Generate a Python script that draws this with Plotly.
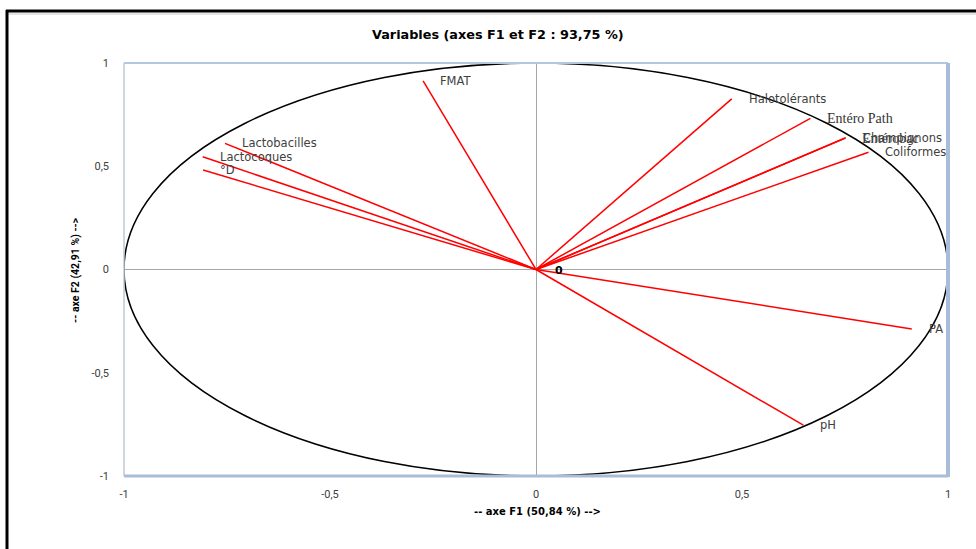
import plotly.graph_objects as go

# Correlation circle: loadings of each variable on factors F1 and F2
variables = ["FMAT", "Lactobacilles", "Lactocoques", "°D", "Halotolérants",
             "Entéro Path", "Entérobac", "Champignons", "Coliformes", "PA", "pH"]
f1 = [-0.274, -0.755, -0.809, -0.808, 0.475, 0.666, 0.750, 0.752, 0.807, 0.912, 0.649]
f2 = [0.913, 0.611, 0.546, 0.482, 0.826, 0.732, 0.636, 0.638, 0.568, -0.288, -0.754]
serif_labels = {"Entéro Path", "Entérobac"}

title_text = "Variables (axes F1 et F2 : 93,75 %)"
x_title = "-- axe F1 (50,84 %) -->"
y_title = "-- axe F2 (42,91 %) -->"
tick_vals = [-1, -0.5, 0, 0.5, 1]
tick_text = ["-1", "-0,5", "0", "0,5", "1"]

# pixel geometry of the plotting area inside the 976x549 page
W, H = 976, 549
L, R, T, B = 124, 948, 63, 476


def px(x):
    return (x - L) / (R - L)


def py(y):
    return (B - y) / (B - T)


fig = go.Figure()

for name, x, y in zip(variables, f1, f2):
    fig.add_trace(go.Scatter(x=[0, x], y=[0, y], mode="lines",
                             line=dict(color="#ff0000", width=1.5),
                             hoverinfo="skip", showlegend=False))

annotations = []
for name, x, y in zip(variables, f1, f2):
    if name in serif_labels:
        font = dict(family="Liberation Serif, Times New Roman, serif", size=14, color="#333333")
    else:
        font = dict(family="DejaVu Sans, Verdana, sans-serif", size=11.5, color="#404040")
    annotations.append(dict(x=x, y=y, xref="x", yref="y", text=name, showarrow=False,
                            xanchor="left", yanchor="middle", xshift=15, font=font))

annotations.append(dict(x=0, y=0, xref="x", yref="y", text="<b>0</b>", showarrow=False,
                        xanchor="left", yanchor="middle", xshift=17, yshift=-1,
                        font=dict(family="DejaVu Sans, sans-serif", size=11, color="#000000")))

annotations.append(dict(x=px(498), y=py(35), xref="paper", yref="paper",
                        text="<b>" + title_text + "</b>", showarrow=False,
                        xanchor="center", yanchor="middle",
                        font=dict(family="DejaVu Sans, sans-serif", size=12.8, color="#000000")))
annotations.append(dict(x=px(537), y=py(511), xref="paper", yref="paper",
                        text="<b>" + x_title + "</b>", showarrow=False,
                        xanchor="center", yanchor="middle",
                        font=dict(family="DejaVu Sans, sans-serif", size=10, color="#000000")))
annotations.append(dict(x=px(75), y=py(270), xref="paper", yref="paper",
                        text="<b>" + y_title + "</b>", showarrow=False, textangle=-90,
                        xanchor="center", yanchor="middle",
                        font=dict(family="Roboto, sans-serif", size=10.5, color="#000000")))

shapes = [
    # unit circle
    dict(type="circle", xref="x", yref="y", x0=-1, y0=-1, x1=1, y1=1,
         line=dict(color="#000000", width=1.5), layer="above"),
    # plot-area frame
    dict(type="line", xref="paper", yref="paper", x0=px(L), x1=px(R), y0=py(T), y1=py(T),
         line=dict(color="#b4c6e0", width=2)),
    dict(type="line", xref="paper", yref="paper", x0=px(L), x1=px(L), y0=py(T), y1=py(B),
         line=dict(color="#c0c8d4", width=1.5)),
    dict(type="line", xref="paper", yref="paper", x0=px(R), x1=px(R), y0=py(T), y1=py(B + 1),
         line=dict(color="#a9bcd8", width=4)),
    dict(type="line", xref="paper", yref="paper", x0=px(L), x1=px(R), y0=py(B), y1=py(B),
         line=dict(color="#a9bcd8", width=3)),
    # outer chart frame
    dict(type="line", xref="paper", yref="paper", x0=px(6), x1=px(W + 5), y0=py(11), y1=py(11),
         line=dict(color="#000000", width=3)),
    dict(type="line", xref="paper", yref="paper", x0=px(8), x1=px(W + 5), y0=py(14), y1=py(14),
         line=dict(color="#c8c8c8", width=1)),
    dict(type="line", xref="paper", yref="paper", x0=px(7), x1=px(7), y0=py(10), y1=py(H + 5),
         line=dict(color="#000000", width=3)),
]

axis_common = dict(
    showgrid=False, zeroline=True, zerolinecolor="#a6a6a6", zerolinewidth=1,
    showline=False, ticks="", tickvals=tick_vals, ticktext=tick_text,
    tickfont=dict(family="Roboto, sans-serif", size=11, color="#404040"),
    fixedrange=True,
)

fig.update_layout(
    width=W, height=H,
    margin=dict(l=L, r=W - R, t=T, b=H - B),
    paper_bgcolor="#ffffff", plot_bgcolor="#ffffff",
    xaxis=dict(range=[-1, 1], ticklabelstandoff=10, **axis_common),
    yaxis=dict(range=[-1, 1], ticklabelstandoff=14, **axis_common),
    annotations=annotations, shapes=shapes, showlegend=False,
)

fig.write_html("out.html", config=dict(displayModeBar=False))
